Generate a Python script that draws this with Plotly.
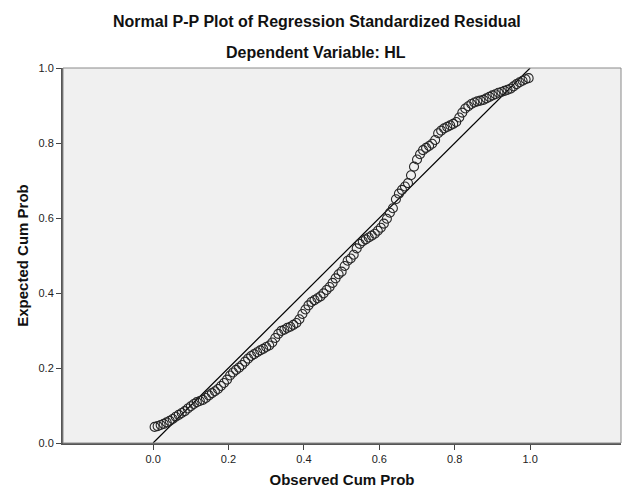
import plotly.graph_objects as go

observed_cum_prob = [
    0.004, 0.012, 0.020, 0.028, 0.036, 0.044, 0.052, 0.060, 0.068, 0.076,
    0.084, 0.092, 0.100, 0.108, 0.116, 0.124, 0.132, 0.140, 0.148, 0.156,
    0.164, 0.172, 0.180, 0.188, 0.196, 0.204, 0.212, 0.220, 0.228, 0.236,
    0.244, 0.252, 0.260, 0.268, 0.276, 0.284, 0.292, 0.300, 0.308, 0.316,
    0.324, 0.332, 0.340, 0.348, 0.356, 0.364, 0.372, 0.380, 0.388, 0.396,
    0.404, 0.412, 0.420, 0.428, 0.436, 0.444, 0.452, 0.460, 0.468, 0.476,
    0.484, 0.492, 0.500, 0.508, 0.516, 0.524, 0.532, 0.540, 0.548, 0.556,
    0.564, 0.572, 0.580, 0.588, 0.596, 0.604, 0.612, 0.620, 0.628, 0.636,
    0.644, 0.652, 0.660, 0.668, 0.676, 0.684, 0.692, 0.700, 0.708, 0.716,
    0.724, 0.732, 0.740, 0.748, 0.756, 0.764, 0.772, 0.780, 0.788, 0.796,
    0.804, 0.812, 0.820, 0.828, 0.836, 0.844, 0.852, 0.860, 0.868, 0.876,
    0.884, 0.892, 0.900, 0.908, 0.916, 0.924, 0.932, 0.940, 0.948, 0.956,
    0.964, 0.972, 0.980, 0.988, 0.996,
]
expected_cum_prob = [
    0.043, 0.045, 0.048, 0.051, 0.055, 0.059, 0.064, 0.070, 0.075, 0.080,
    0.085, 0.092, 0.098, 0.104, 0.109, 0.112, 0.115, 0.120, 0.127, 0.133,
    0.138, 0.144, 0.152, 0.160, 0.169, 0.180, 0.188, 0.195, 0.201, 0.208,
    0.217, 0.225, 0.232, 0.237, 0.242, 0.247, 0.251, 0.256, 0.260, 0.268,
    0.280, 0.291, 0.299, 0.302, 0.307, 0.310, 0.315, 0.320, 0.330, 0.344,
    0.356, 0.367, 0.376, 0.381, 0.386, 0.391, 0.399, 0.408, 0.416, 0.427,
    0.439, 0.450, 0.457, 0.472, 0.486, 0.492, 0.502, 0.519, 0.531, 0.538,
    0.543, 0.548, 0.553, 0.558, 0.566, 0.574, 0.585, 0.598, 0.614, 0.626,
    0.650, 0.665, 0.675, 0.684, 0.693, 0.714, 0.737, 0.756, 0.770, 0.781,
    0.787, 0.792, 0.798, 0.808, 0.826, 0.833, 0.839, 0.843, 0.847, 0.851,
    0.856, 0.868, 0.881, 0.892, 0.898, 0.904, 0.908, 0.911, 0.913, 0.915,
    0.919, 0.923, 0.927, 0.930, 0.934, 0.936, 0.939, 0.942, 0.945, 0.951,
    0.957, 0.962, 0.966, 0.970, 0.973,
]
reference_line = [0.0, 1.0]
tick_values = [0.0, 0.2, 0.4, 0.6, 0.8, 1.0]
tick_labels = ["0.0", "0.2", "0.4", "0.6", "0.8", "1.0"]

FONT = "Liberation Sans, Arial, sans-serif"
W, H = 629, 504
ML, MR, MT, MB = 63, 8, 68, 61
pw = W - ML - MR
ph = H - MT - MB


def px_to_paper(px, py):
    return (px - ML) / pw, (H - MB - py) / ph


fig = go.Figure()
fig.add_trace(go.Scatter(
    x=reference_line, y=reference_line, mode="lines",
    line=dict(color="#000000", width=1.2), hoverinfo="skip", showlegend=False,
))
fig.add_trace(go.Scatter(
    x=observed_cum_prob, y=expected_cum_prob, mode="markers",
    marker=dict(symbol="circle-open", size=9, color="#262626",
                line=dict(color="#262626", width=1.1)),
    showlegend=False,
))

t1x, t1y = px_to_paper(317, 22)
t2x, t2y = px_to_paper(316, 52)

fig.update_layout(
    width=W, height=H,
    margin=dict(l=ML, r=MR, t=MT, b=MB, autoexpand=False),
    paper_bgcolor="#ffffff",
    plot_bgcolor="#f0f0f0",
    font=dict(family=FONT, size=11, color="#222222"),
    annotations=[
        dict(text="<b>Normal P-P Plot of Regression Standardized Residual</b>",
             x=t1x, y=t1y, xref="paper", yref="paper", showarrow=False,
             xanchor="center", yanchor="middle",
             font=dict(size=16, family=FONT, color="#111111")),
        dict(text="<b>Dependent Variable: HL</b>",
             x=t2x, y=t2y, xref="paper", yref="paper", showarrow=False,
             xanchor="center", yanchor="middle",
             font=dict(size=16, family=FONT, color="#111111")),
    ],
    xaxis=dict(
        range=[-0.239, 1.241], tickvals=tick_values, ticktext=tick_labels,
        ticks="outside", ticklen=5, tickwidth=1, tickcolor="#444444",
        showgrid=False, zeroline=False, automargin=False,
        showline=True, linecolor="#555555", linewidth=2,
        title=dict(text="<b>Observed Cum Prob</b>",
                   font=dict(size=15, family=FONT, color="#111111"), standoff=10),
    ),
    yaxis=dict(
        range=[0.0, 1.0], tickvals=tick_values, ticktext=tick_labels,
        ticks="outside", ticklen=5, tickwidth=1, tickcolor="#444444",
        showgrid=False, zeroline=False, automargin=False,
        showline=True, linecolor="#555555", linewidth=2,
        title=dict(text="<b>Expected Cum Prob</b>",
                   font=dict(size=15, family=FONT, color="#111111"), standoff=6),
    ),
    shapes=[
        dict(type="rect", xref="paper", yref="paper", x0=0, y0=0, x1=1, y1=1,
             line=dict(color="#8a8a8a", width=1), layer="above"),
    ],
)

fig.write_html("out.html", config={"displayModeBar": False},
               post_script="document.body.style.margin='0';")
